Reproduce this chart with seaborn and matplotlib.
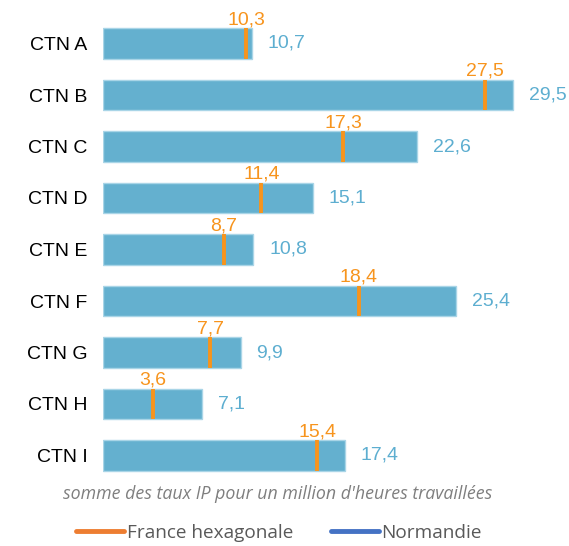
import matplotlib
matplotlib.use("Agg")
import matplotlib.pyplot as plt
from matplotlib.lines import Line2D
import seaborn as sns
import pandas as pd

categories = ["CTN A", "CTN B", "CTN C", "CTN D", "CTN E", "CTN F", "CTN G", "CTN H", "CTN I"]
normandie = [10.7, 29.5, 22.6, 15.1, 10.8, 25.4, 9.9, 7.1, 17.4]
france_hexagonale = [10.3, 27.5, 17.3, 11.4, 8.7, 18.4, 7.7, 3.6, 15.4]

BAR = "#64B0CF"
ORANGE = "#F7941D"
LABEL_BLUE = "#5DAED0"

sns.set_theme(style="white")
plt.rcParams["font.family"] = ["Liberation Sans", "DejaVu Sans"]

df = pd.DataFrame({"ctn": categories, "normandie": normandie, "france": france_hexagonale})

fig = plt.figure(figsize=(5.69, 5.46), dpi=100)
ax = fig.add_axes([103 / 569, 1 - 481.25 / 546, 444.8 / 569, (481.25 - 17.75) / 546])

sns.barplot(data=df, y="ctn", x="normandie", orient="h", color=BAR, saturation=1,
            width=0.6, edgecolor="#A9D5E7", linewidth=1, ax=ax)

# national rate shown as a vertical tick inside each bar
ypos = list(range(len(categories)))
ax.vlines(df["france"], [y - 0.3 for y in ypos], [y + 0.3 for y in ypos],
          color=ORANGE, linewidth=2.8, zorder=3)

fmt = lambda v: f"{v:.1f}".replace(".", ",")
for y, n, f in zip(ypos, df["normandie"], df["france"]):
    ax.annotate(fmt(n), (n, y), xytext=(11.5, 0), textcoords="offset points",
                ha="left", va="center", color=LABEL_BLUE, fontsize=14)
    ax.annotate(fmt(f), (f, y - 0.3), xytext=(0, 0), textcoords="offset points",
                ha="center", va="bottom", color=ORANGE, fontsize=14)

ax.set_xlim(0, 32)
ax.set_ylim(8.5, -0.5)
ax.set_xlabel("")
ax.set_ylabel("")
ax.set_xticks([])
ax.tick_params(axis="y", length=0, pad=11, labelsize=14, labelcolor="#000000")
for s in ax.spines.values():
    s.set_visible(False)

fig.text(278 / 569, 1 - 494 / 546, "somme des taux IP pour un million d'heures travaillées",
         ha="center", va="center", fontsize=12.8, style="italic", color="#7F7F7F",
         family=["Open Sans", "DejaVu Sans"])

handles = [
    Line2D([], [], color="#ED7D31", linewidth=3.5, solid_capstyle="round"),
    Line2D([], [], color="#4472C4", linewidth=3.5, solid_capstyle="round"),
]
fig.legend(handles, ["France hexagonale", "Normandie"], loc="center",
           bbox_to_anchor=(279 / 569, 1 - 533 / 546), ncol=2, frameon=False,
           handlelength=2.5, handletextpad=0.15, columnspacing=2.0,
           prop={"family": ["Open Sans", "DejaVu Sans"], "size": 13.7},
           labelcolor="#595959")

fig.savefig("out.png", dpi=100)
